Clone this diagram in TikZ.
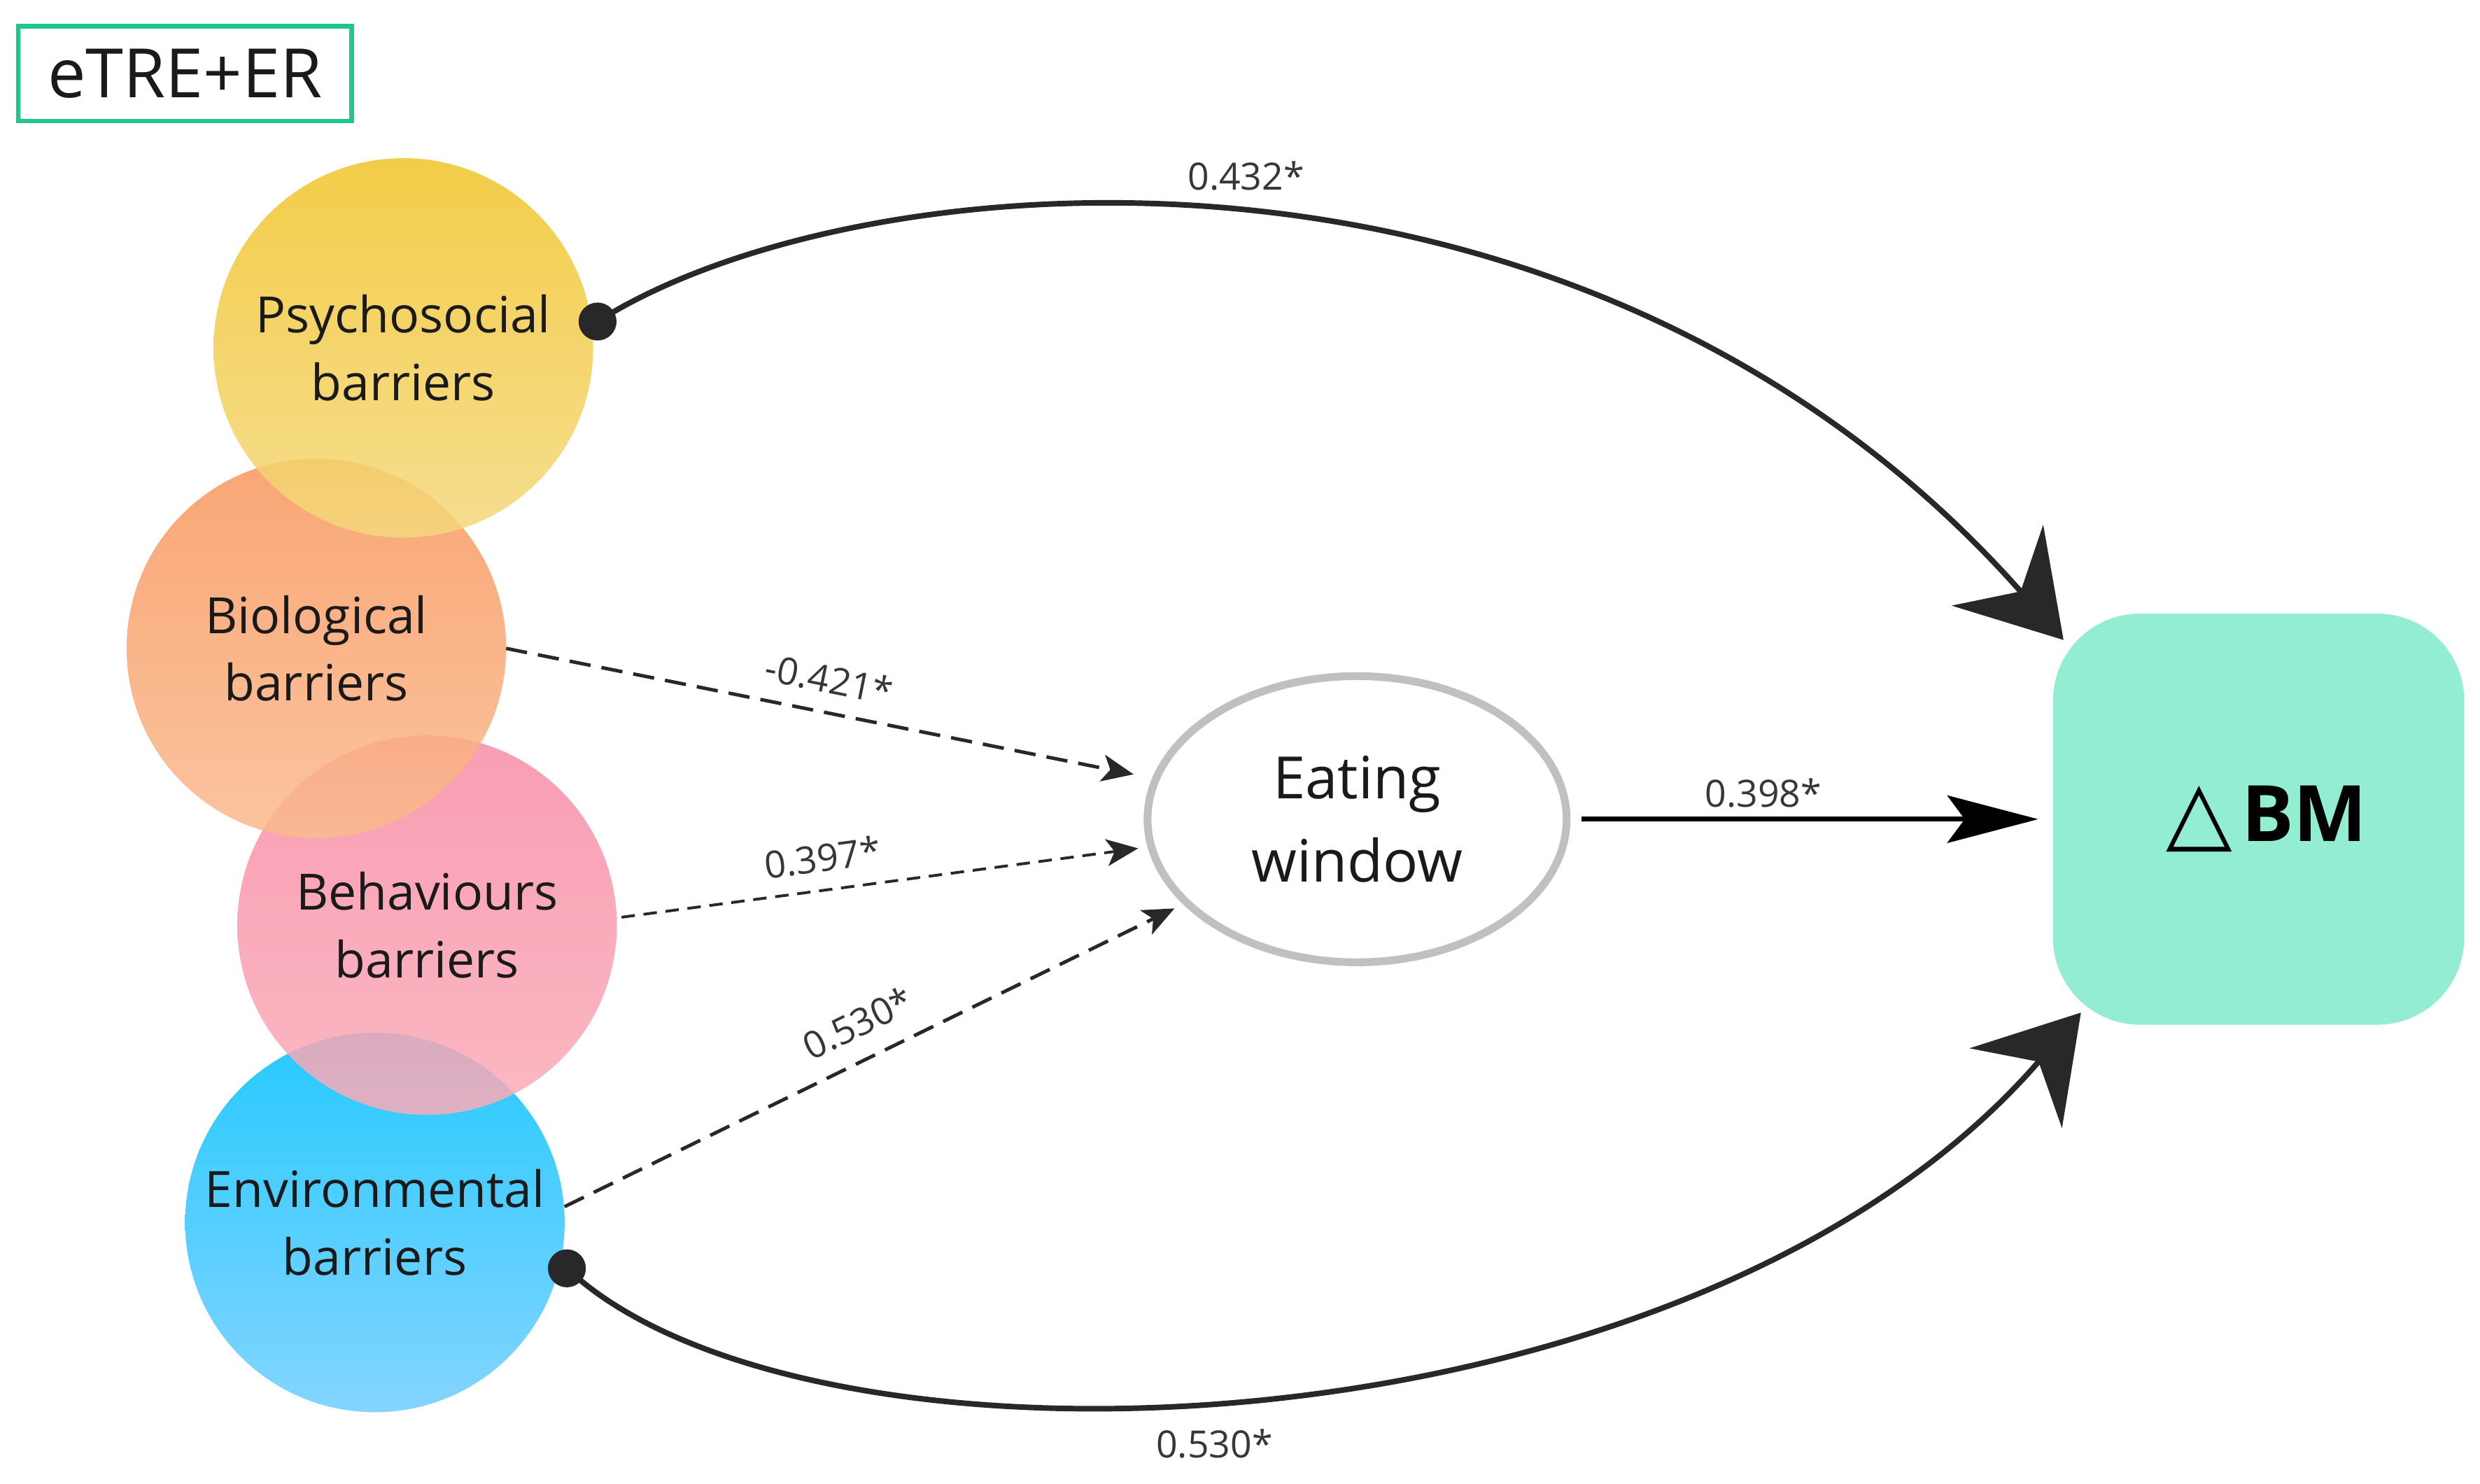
\documentclass[tikz,border=0pt]{standalone}
\usepackage{fontspec}
\setmainfont{Open Sans}
\newfontfamily\symfont{DejaVu Sans}
\usetikzlibrary{arrows.meta,shapes.geometric,calc}
\definecolor{psyT}{RGB}{240,196,40}
\definecolor{psyB}{RGB}{245,216,125}
\definecolor{bioT}{RGB}{248,150,92}
\definecolor{bioB}{RGB}{250,186,142}
\definecolor{behT}{RGB}{248,140,165}
\definecolor{behB}{RGB}{250,172,184}
\definecolor{envT}{RGB}{0,192,255}
\definecolor{envB}{RGB}{110,205,255}
\definecolor{bmc}{RGB}{147,237,210}
\definecolor{hdrgreen}{RGB}{30,200,140}
\definecolor{ewgray}{RGB}{192,192,192}
\definecolor{arrowc}{RGB}{40,40,40}
\definecolor{txt}{RGB}{26,26,26}
\definecolor{lblc}{RGB}{55,55,55}
\begin{document}
\begin{tikzpicture}[x=0.02cm,y=-0.02cm,
  barrier/.style={circle, minimum size=4.8cm, inner sep=0pt, outer sep=0pt,
    align=center, font=\fontsize{18}{24.4}\selectfont, text=txt,
    fill opacity=0.85, text opacity=1},
  curve/.style={draw=arrowc, line width=2pt},
  bigtip/.style={-{Stealth[length=1.26cm,width=1.54cm,inset=0.44cm]}},
  dashline/.style={draw=arrowc, line width=1.25pt, dash pattern=on 0.27cm off 0.14cm,
    -{Stealth[length=0.4cm,width=0.34cm,inset=0.1cm]}},
  fineline/.style={draw=arrowc, line width=1.0pt, dash pattern=on 0.17cm off 0.11cm,
    -{Stealth[length=0.4cm,width=0.34cm,inset=0.1cm]}},
  lbl/.style={font=\fontsize{13.5}{14}\selectfont, text=lblc, inner sep=1pt}
]
\useasboundingbox (0,0) rectangle (1568,938);

% header
\node[draw=hdrgreen, line width=1.7pt, minimum width=4.22cm, minimum height=1.2cm,
  inner sep=0pt, font=\fontsize{24.5}{28}\selectfont, text=txt] (hdr) at (117,46.5) {eTRE+ER};

% barrier circles (bottom-most first)
\node[barrier, top color=envT, bottom color=envB] (env) at (237,773) {Environmental\\barriers};
\node[barrier, top color=behT, bottom color=behB] (beh) at (270,585) {Behaviours\\barriers};
\node[barrier, top color=bioT, bottom color=bioB] (bio) at (200,410) {Biological\\barriers};
\node[barrier, top color=psyT, bottom color=psyB] (psy) at (255,220) {Psychosocial\\barriers};

% eating window
\node[ellipse, draw=ewgray, line width=2.8pt, fill=white, minimum width=5.3cm,
  minimum height=3.62cm, inner sep=0pt, align=center, text=txt,
  font=\fontsize{21}{30}\selectfont] (eat) at (858,518) {Eating\\window};

% delta BM
\node[rectangle, rounded corners=1.1cm, fill=bmc, minimum width=5.2cm, minimum height=5.2cm,
  inner sep=0pt, text=black] (bm) at (1428,518)
  {\hspace{0.2cm}{\symfont\fontsize{31}{31}\selectfont △}\hspace{0.12cm}{\bfseries\fontsize{28}{30}\selectfont BM}};

% connector end points
\coordinate (psyDot) at ($(psy.8)+(4,0)$);
\coordinate (envDot) at ($(env.-14)+(5,0)$);
\coordinate (bmTop) at ($(bm.north west)+(7,17)$);
\coordinate (bmBot) at ($(bm.south west)+(18,-8)$);

% curved paths to delta BM
\draw[curve, bigtip] (psyDot) .. controls (540,100) and (1000,60) .. (bmTop)
  node[lbl, pos=0.5, above=0.24cm] {0.432*};
\draw[curve, bigtip] (envDot) .. controls (510,945) and (1070,925) .. (bmBot)
  node[lbl, pos=0.47, below=0.3cm] {0.530*};
\fill[arrowc] (psyDot) circle[radius=0.24cm];
\fill[arrowc] (envDot) circle[radius=0.24cm];

% eating window to delta BM
\draw[draw=black, line width=1.7pt, shorten <=0.14cm, shorten >=0.18cm,
  -{Stealth[length=1.15cm,width=0.6cm,inset=0.22cm]}] (eat.east) -- (bm.west)
  node[lbl, pos=0.4, above=0.08cm] {0.398*};

% dashed paths to eating window
\draw[dashline, shorten >=0.24cm] (bio.east) -- (eat)
  node[lbl, pos=0.49, sloped, above=0.18cm] {-0.421*};
\draw[fineline, shorten >=0.12cm] ($(beh.east)+(3,-5)$) -- (eat)
  node[lbl, pos=0.39, sloped, above=0.18cm] {0.397*};
\draw[dashline, shorten >=0.12cm] ($(env.east)+(0,-10)$) -- (eat)
  node[lbl, pos=0.5, sloped, above=0.22cm] {0.530*};
\end{tikzpicture}
\end{document}
